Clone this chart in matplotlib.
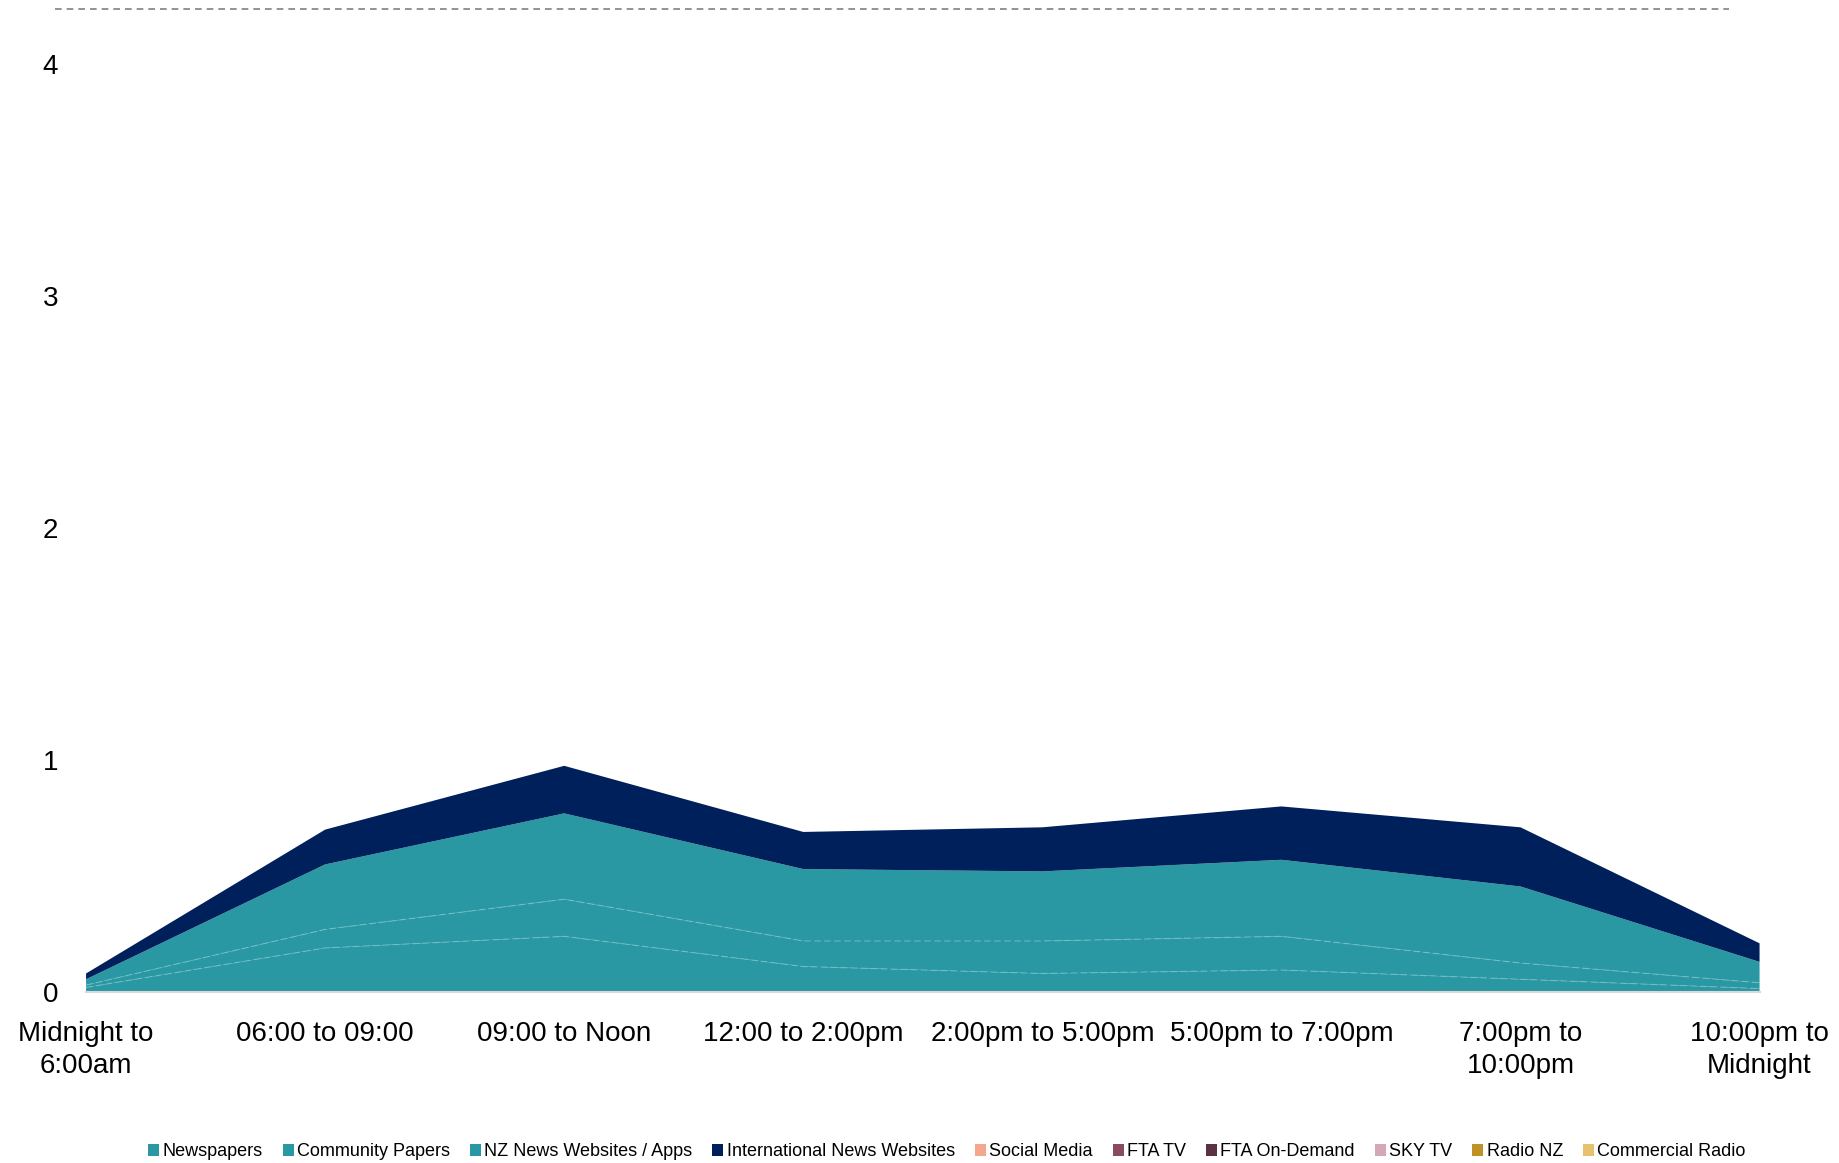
import numpy as np
import matplotlib.pyplot as plt
from matplotlib.lines import Line2D
from matplotlib.patches import Patch

plt.rcParams['font.family'] = ['Liberation Sans', 'DejaVu Sans']

time_slots = ['Midnight to\n6:00am', '06:00 to 09:00', '09:00 to Noon', '12:00 to 2:00pm',
              '2:00pm to 5:00pm', '5:00pm to 7:00pm', '7:00pm to\n10:00pm', '10:00pm to\nMidnight']

newspapers = [0.02, 0.19, 0.24, 0.11, 0.08, 0.095, 0.055, 0.015]
community_papers = [0.01, 0.08, 0.16, 0.11, 0.14, 0.145, 0.07, 0.025]
nz_news_sites = [0.025, 0.28, 0.37, 0.31, 0.30, 0.33, 0.33, 0.09]
intl_news_sites = [0.025, 0.15, 0.205, 0.16, 0.19, 0.23, 0.255, 0.08]
social_media = [0, 0, 0, 0, 0, 0, 0, 0]
fta_tv = [0, 0, 0, 0, 0, 0, 0, 0]
fta_on_demand = [0, 0, 0, 0, 0, 0, 0, 0]
sky_tv = [0, 0, 0, 0, 0, 0, 0, 0]
radio_nz = [0, 0, 0, 0, 0, 0, 0, 0]
commercial_radio = [0, 0, 0, 0, 0, 0, 0, 0]

series_names = ['Newspapers', 'Community Papers', 'NZ News Websites / Apps', 'International News Websites',
                'Social Media', 'FTA TV', 'FTA On-Demand', 'SKY TV', 'Radio NZ', 'Commercial Radio']
series = [newspapers, community_papers, nz_news_sites, intl_news_sites, social_media,
          fta_tv, fta_on_demand, sky_tv, radio_nz, commercial_radio]
colors = ['#2A98A3', '#2A98A3', '#2A98A3', '#00205C', '#F4A68E', '#8A4A64',
          '#5B3243', '#D4A8B8', '#BF9226', '#E6C16E']

fig = plt.figure(figsize=(18.39, 11.63), dpi=100)
ax = fig.add_axes([0.0468, 0.147, 0.910, 0.798])

x = np.arange(len(time_slots))
ax.stackplot(x, *series, colors=colors, linewidth=0)

# faint seams between the three teal layers
cum = np.cumsum(np.array(series[:2]), axis=0)
for row in cum:
    ax.plot(x, row, color='#7CC3CA', lw=0.8, ls=(0, (6, 3)), alpha=0.7)

ax.set_xlim(0, len(time_slots) - 1)
ax.set_ylim(0, 4)
ax.set_yticks([0, 1, 2, 3, 4])
ax.set_xticks(x)
ax.set_xticklabels(time_slots, fontsize=20, linespacing=1.3)
ax.tick_params(axis='y', length=0, labelsize=20, pad=20)
ax.tick_params(axis='x', length=0, pad=21)
for s in ['top', 'right', 'left']:
    ax.spines[s].set_visible(False)
ax.spines['bottom'].set_color('#D9D9D9')
ax.spines['bottom'].set_linewidth(1.5)

fig.add_artist(Line2D([0.030, 0.940], [0.992, 0.992], transform=fig.transFigure,
                      color='#808080', lw=1.2, ls=(0, (4, 3))))

handles = [Patch(facecolor=c, edgecolor='none') for c in colors]
fig.legend(handles, series_names, loc='center', bbox_to_anchor=(0.515, 0.0095), ncol=10,
           frameon=False, fontsize=13, handlelength=0.6, handleheight=0.6,
           handletextpad=0.2, columnspacing=1.1)

fig.savefig('out.png', dpi=100)
